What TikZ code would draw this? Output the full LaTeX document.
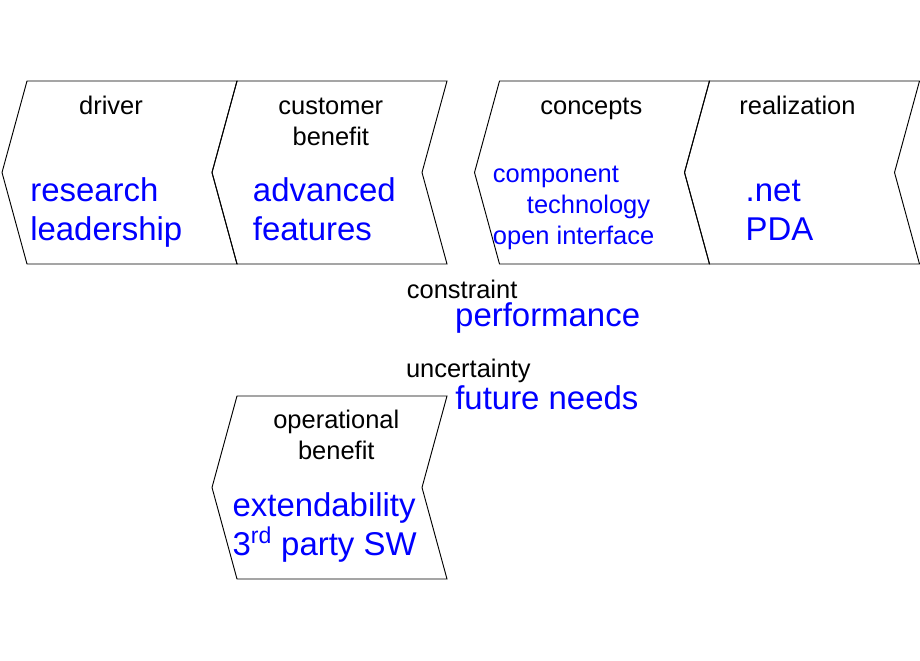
\documentclass[tikz,border=0pt]{standalone}
\usepackage{fontspec}
\setmainfont{Liberation Sans}
\usepackage{tikz}
\usetikzlibrary{arrows}
\usetikzlibrary{positioning}
\usetikzlibrary{shapes.symbols}
\definecolor{txtblue}{RGB}{0,0,255}
\newcommand\smallfs{\fontsize{19.1pt}{23.25pt}\selectfont}
\newcommand\bigfs{\fontsize{24.7pt}{29.25pt}\selectfont}
\tikzstyle{every node}+=[inner sep=0pt]
\tikzstyle{stage} = [signal, signal to=west, signal from=east, signal pointer angle=149.44, draw, line width=0.7pt, inner xsep=69.375pt, inner ysep=68.625pt, node distance=157.5pt]
\tikzstyle{head} = [anchor=base, font=\smallfs, align=center]
\tikzstyle{item} = [anchor=base west, font=\bigfs, text=txtblue, align=left]
\tikzstyle{subitem} = [anchor=base west, font=\smallfs, text=txtblue, align=left]
\tikzstyle{note} = [anchor=base west, font=\smallfs]

\begin{document}
\begin{tikzpicture}
            \useasboundingbox (0,0) rectangle (690pt,-495pt);
            % Place stages
            \node [stage] (drv) at (89.625pt,-129.375pt) {};
            \node [stage, right of=drv] (cust) {};
            \node [stage, right of=cust, node distance=196.875pt] (conc) {};
            \node [stage, right of=conc] (real) {};
            \node [stage, below of=cust, node distance=236.25pt] (oper) {};
            % Headings (base = last line)
            \node [head] (drvh) at ([xshift=-6.4pt, yshift=-25.5pt]drv.north) {driver};
            \node [head] (custh) at ([xshift=1pt, yshift=-48.75pt]cust.north) {customer\\benefit};
            \node [head] (conch) at ([xshift=-0.5pt, yshift=-25.5pt]conc.north) {concepts};
            \node [head] (realh) at ([xshift=-3.4pt, yshift=-25.5pt]real.north) {realization};
            \node [head] (operh) at ([xshift=5.1pt, yshift=-48.25pt]oper.north) {operational\\benefit};
            % Items
            \node [item] (drvi) at ([xshift=-67.1pt, yshift=-50.85pt]drv.center) {research\\leadership};
            \node [item] (custi) at ([xshift=-57.6pt, yshift=-50.85pt]cust.center) {advanced\\features};
            \node [subitem] (conci) at ([xshift=-74.5pt, yshift=-54.1pt]conc.center) {component\\\hspace*{25.5pt}technology\\open interface};
            \node [item] (reali) at ([xshift=-42.4pt, yshift=-50.85pt]real.center) {.net\\PDA};
            \node [item] (operi) at ([xshift=-72.9pt, yshift=-50.65pt]oper.center) {extendability\\3\textsuperscript{rd} party SW};
            % Notes
            \node [note] (cons) at (305pt,-223.5pt) {constraint};
            \node [note, font=\bigfs, text=txtblue] (perf) at ([xshift=36.2pt, yshift=-21.5pt]cons.base west) {performance};
            \node [note] (unc) at ([xshift=-0.7pt, yshift=-59.25pt]cons.base west) {uncertainty};
            \node [note, font=\bigfs, text=txtblue] (fut) at ([xshift=37pt, yshift=-24.5pt]unc.base west) {future needs};
\end{tikzpicture}
\end{document}
